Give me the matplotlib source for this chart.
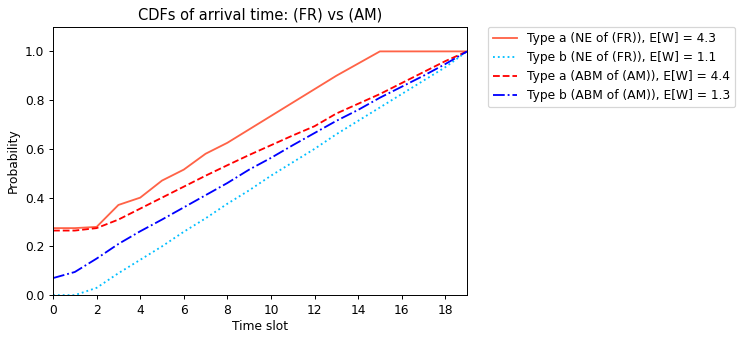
import numpy as np
import matplotlib
matplotlib.use("Agg")
import matplotlib.pyplot as plt

slots = np.arange(20)

# CDF values
ne_a = [0.275, 0.275, 0.28, 0.37, 0.40, 0.47, 0.515, 0.58, 0.625, 0.68,
        0.735, 0.79, 0.845, 0.90, 0.95, 1.0, 1.0, 1.0, 1.0, 1.0]
ne_b = [0.0, 0.0, 0.03, 0.09, 0.145, 0.20, 0.26, 0.315, 0.375, 0.43,
        0.49, 0.545, 0.60, 0.66, 0.715, 0.77, 0.825, 0.88, 0.935, 1.0]
abm_a = [0.265, 0.265, 0.275, 0.31, 0.355, 0.40, 0.445, 0.49, 0.533, 0.575,
         0.615, 0.655, 0.693, 0.745, 0.785, 0.825, 0.87, 0.915, 0.96, 1.0]
abm_b = [0.07, 0.095, 0.15, 0.21, 0.262, 0.31, 0.36, 0.41, 0.46, 0.515,
         0.563, 0.615, 0.665, 0.715, 0.76, 0.81, 0.855, 0.9, 0.948, 1.0]

labels = ["Type a (NE of (FR)), E[W] = 4.3",
          "Type b (NE of (FR)), E[W] = 1.1",
          "Type a (ABM of (AM)), E[W] = 4.4",
          "Type b (ABM of (AM)), E[W] = 1.3"]

DPI = 88
fig = plt.figure(figsize=(748 / DPI, 342 / DPI), dpi=DPI)
ax = fig.add_axes([0.0709, 0.137, 0.5535, 0.784])

lw = 1.5
ax.plot(slots, ne_a, color="tomato", linestyle="-", lw=lw, label=labels[0])
ax.plot(slots, ne_b, color="deepskyblue", linestyle=":", lw=lw, label=labels[1])
ax.plot(slots, abm_a, color="red", linestyle="--", lw=lw, label=labels[2])
ax.plot(slots, abm_b, color="blue", linestyle="-.", lw=lw, label=labels[3])

ax.set_xlim(0, 19)
ax.set_ylim(0, 1.1)
ax.set_xticks(np.arange(0, 19, 2))
ax.set_yticks(np.arange(0, 1.01, 0.2))
ax.set_xlabel("Time slot", labelpad=2.5)
ax.set_ylabel("Probability")
ax.set_title("CDFs of arrival time: (FR) vs (AM)", fontsize=12)
ax.legend(bbox_to_anchor=(1.05, 1), loc="upper left", borderaxespad=0)

fig.savefig("out.png", dpi=DPI)
